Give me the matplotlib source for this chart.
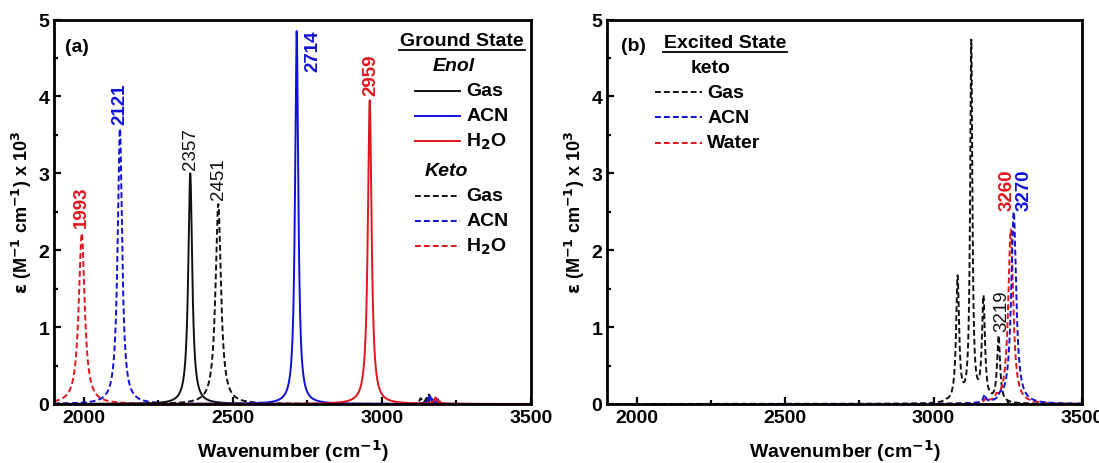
import numpy as np
import matplotlib.pyplot as plt
from matplotlib.ticker import MultipleLocator

plt.rcParams['font.family'] = ['Liberation Sans', 'DejaVu Sans']
plt.rcParams['font.weight'] = 'bold'
plt.rcParams['mathtext.default'] = 'bf'

BLACK = '#111111'
BLUE = '#1010d8'
RED = '#e0161c'

# band positions (cm-1), peak heights (x 10^3) and half widths for each trace
# ground state, enol form
enol_gas_pos = [2357, 3150]
enol_gas_h = [3.00, 0.08]
enol_gas_w = [8, 6]
enol_acn_pos = [2714, 3160]
enol_acn_h = [4.85, 0.10]
enol_acn_w = [6.5, 6]
enol_h2o_pos = [2959, 3180]
enol_h2o_h = [3.95, 0.08]
enol_h2o_w = [7.5, 6]
# ground state, keto form
keto_gas_pos = [2451, 3130, 3158]
keto_gas_h = [2.60, 0.07, 0.12]
keto_gas_w = [11, 5, 5]
keto_acn_pos = [2121, 3165, 3185]
keto_acn_h = [3.58, 0.10, 0.07]
keto_acn_w = [9, 5, 5]
keto_h2o_pos = [1993, 3190]
keto_h2o_h = [2.22, 0.06]
keto_h2o_w = [12, 5]
# excited state, keto form
exc_gas_pos = [3040, 3081, 3127, 3168, 3219]
exc_gas_h = [0.02, 1.62, 4.68, 1.34, 0.86]
exc_gas_w = [5, 6, 4.5, 6, 6]
exc_acn_pos = [3172, 3225, 3270]
exc_acn_h = [0.10, 0.05, 2.50]
exc_acn_w = [5, 5, 10]
exc_h2o_pos = [3178, 3212, 3260]
exc_h2o_h = [0.06, 0.05, 2.27]
exc_h2o_w = [5, 5, 10]

# peak annotations: (text, x, y, colour, weight)
labels_a = [('1993', 1993, 2.30, RED, 'bold'),
            ('2121', 2121, 3.64, BLUE, 'bold'),
            ('2357', 2359, 3.05, BLACK, 'normal'),
            ('2451', 2451, 2.66, BLACK, 'normal'),
            ('2714', 2770, 4.33, BLUE, 'bold'),
            ('2959', 2962, 4.02, RED, 'bold')]
labels_b = [('3219', 3230, 0.95, BLACK, 'normal'),
            ('3260', 3248, 2.52, RED, 'bold'),
            ('3270', 3306, 2.52, BLUE, 'bold')]

wn = np.linspace(1900, 3500, 16001)


def spectrum(pos, h, w):
    y = np.zeros_like(wn)
    for p, a, g in zip(pos, h, w):
        y += a * g**2 / ((wn - p)**2 + g**2)
    return y


dash = (0, (3, 1.6))
FS = 14

fig = plt.figure(figsize=(10.99, 4.64), dpi=100)
ax1 = fig.add_axes([54 / 1099, 1 - 405 / 464, 477 / 1099, 384.5 / 464])
ax2 = fig.add_axes([607 / 1099, 1 - 405 / 464, 475 / 1099, 384.5 / 464])

ax1.plot(wn, spectrum(keto_h2o_pos, keto_h2o_h, keto_h2o_w), color=RED, lw=1.4, ls=dash)
ax1.plot(wn, spectrum(keto_acn_pos, keto_acn_h, keto_acn_w), color=BLUE, lw=1.4, ls=dash)
ax1.plot(wn, spectrum(keto_gas_pos, keto_gas_h, keto_gas_w), color=BLACK, lw=1.4, ls=dash)
ax1.plot(wn, spectrum(enol_gas_pos, enol_gas_h, enol_gas_w), color=BLACK, lw=1.4)
ax1.plot(wn, spectrum(enol_acn_pos, enol_acn_h, enol_acn_w), color=BLUE, lw=1.4)
ax1.plot(wn, spectrum(enol_h2o_pos, enol_h2o_h, enol_h2o_w), color=RED, lw=1.4)

ax2.plot(wn, spectrum(exc_gas_pos, exc_gas_h, exc_gas_w), color=BLACK, lw=1.4, ls=dash)
ax2.plot(wn, spectrum(exc_h2o_pos, exc_h2o_h, exc_h2o_w), color=RED, lw=1.4, ls=dash)
ax2.plot(wn, spectrum(exc_acn_pos, exc_acn_h, exc_acn_w), color=BLUE, lw=1.4, ls=dash)

for ax, labs in ((ax1, labels_a), (ax2, labels_b)):
    for txt, x, y, c, wt in labs:
        ax.text(x, y, txt, rotation=90, ha='center', va='bottom', color=c,
                fontsize=13.5, fontweight=wt)
    ax.set_xlim(1900, 3500)
    ax.set_ylim(0, 5)
    ax.xaxis.set_major_locator(MultipleLocator(500))
    ax.xaxis.set_minor_locator(MultipleLocator(250))
    ax.yaxis.set_major_locator(MultipleLocator(1))
    ax.yaxis.set_minor_locator(MultipleLocator(0.5))
    ax.tick_params(which='both', direction='in', width=1.6, labelsize=FS,
                   top=False, right=False)
    ax.tick_params(which='major', length=5)
    ax.tick_params(which='minor', length=3)
    for lab in ax.get_xticklabels() + ax.get_yticklabels():
        lab.set_fontweight('bold')
    for sp in ax.spines.values():
        sp.set_linewidth(2)
    ax.set_xlabel('Wavenumber (cm$^{-1}$)', fontsize=14, fontweight='bold', labelpad=8)
    ax.set_ylabel(r'$\epsilon$ (M$^{-1}$ cm$^{-1}$) x 10$^3$', fontsize=13,
                  fontweight='bold', labelpad=3)

T1 = ax1.transAxes
ax1.text(0.048, 0.929, '(a)', transform=T1, ha='center', va='center', fontsize=FS)
ax1.text(0.855, 0.945, 'Ground State', transform=T1, ha='center', va='center', fontsize=FS)
ax1.plot([0.724, 0.987], [0.920, 0.920], transform=T1, color='black', lw=1.3)
ax1.text(0.837, 0.880, 'Enol', transform=T1, ha='center', va='center', fontsize=FS,
         style='italic')
ax1.text(0.822, 0.607, 'Keto', transform=T1, ha='center', va='center', fontsize=FS,
         style='italic')
entries_a = [('Gas', BLACK, '-', 0.815), ('ACN', BLUE, '-', 0.750),
             ('H$_2$O', RED, '-', 0.685), ('Gas', BLACK, dash, 0.542),
             ('ACN', BLUE, dash, 0.477), ('H$_2$O', RED, dash, 0.411)]
for name, c, ls, y in entries_a:
    ax1.plot([0.757, 0.851], [y, y], transform=T1, color=c, ls=ls, lw=1.4)
    ax1.text(0.864, y, name, transform=T1, ha='left', va='center', fontsize=FS)

T2 = ax2.transAxes
ax2.text(0.055, 0.932, '(b)', transform=T2, ha='center', va='center', fontsize=FS)
ax2.text(0.248, 0.941, 'Excited State', transform=T2, ha='center', va='center', fontsize=FS)
ax2.plot([0.117, 0.379], [0.916, 0.916], transform=T2, color='black', lw=1.3)
ax2.text(0.218, 0.876, 'keto', transform=T2, ha='center', va='center', fontsize=FS)
entries_b = [('Gas', BLACK, 0.811), ('ACN', BLUE, 0.746), ('Water', RED, 0.679)]
for name, c, y in entries_b:
    ax2.plot([0.102, 0.199], [y, y], transform=T2, color=c, ls=dash, lw=1.4)
    ax2.text(0.211, y, name, transform=T2, ha='left', va='center', fontsize=FS)

fig.savefig('out.png', dpi=100)
